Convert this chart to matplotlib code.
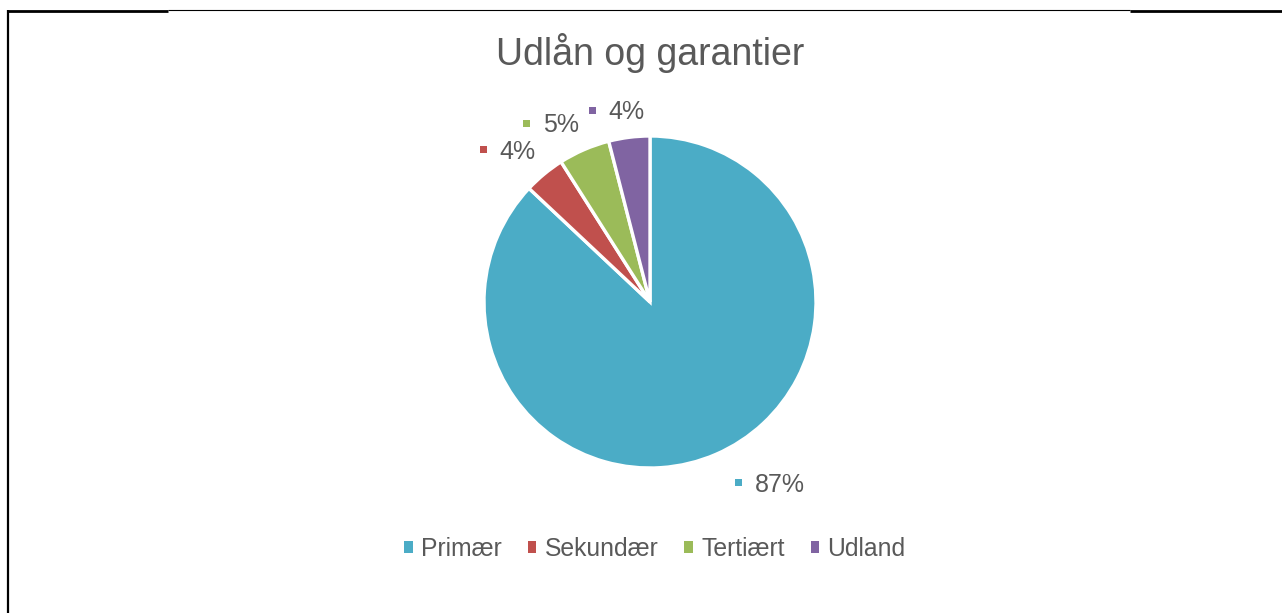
import numpy as np
import matplotlib

matplotlib.use("Agg")
import matplotlib.pyplot as plt
from matplotlib.lines import Line2D
from matplotlib.patches import Patch, Rectangle
from matplotlib.offsetbox import AnnotationBbox, DrawingArea, HPacker, TextArea

plt.rcParams["font.family"] = ["Liberation Sans", "DejaVu Sans"]

TITLE = "Udlån og garantier"
categories = ["Primær", "Sekundær", "Tertiært", "Udland"]
shares = [87, 4, 5, 4]
colors = ["#4bacc6", "#c0504d", "#9bbb59", "#8064a2"]
TEXT = "#595959"

W, H = 1282, 613
fig = plt.figure(figsize=(W / 100, H / 100), dpi=100)

# pie axes: centre (650, 302) px, radius 166 px
cx, cy, r = 650, 302, 166
ax = fig.add_axes([(cx - r) / W, (H - cy - r) / H, 2 * r / W, 2 * r / H])
wedges, _ = ax.pie(
    shares,
    colors=colors,
    startangle=90,
    counterclock=False,
    radius=1.0,
    wedgeprops=dict(edgecolor="white", linewidth=2.4),
)
ax.set_xlim(-1, 1)
ax.set_ylim(-1, 1)
ax.set_aspect("equal")
ax.axis("off")

# data labels: small coloured square + percent, anchored just outside the wedge
LABEL_FS = 18
for w, val, col in zip(wedges, shares, colors):
    mid = np.deg2rad((w.theta1 + w.theta2) / 2)
    c, s = np.cos(mid), np.sin(mid)
    dist = 1.08 if s > 0 else 1.12
    px, py = dist * c, dist * s
    a = np.clip(3 * c, -1, 1)
    fx = 0.5 - a / 2
    fy = 0.0 if s > 0 else 1.0
    if c > 0.2:  # right side label sits a little further out
        px += 0.07
    da = DrawingArea(5, 9, 0, 0)
    da.add_artist(Rectangle((0, 4), 5, 5, fc=col, ec="none"))
    ta = TextArea(f"{val}%", textprops=dict(fontsize=LABEL_FS, color=TEXT))
    box = HPacker(children=[da, ta], align="baseline", pad=0, sep=9)
    ab = AnnotationBbox(box, (px, py), xycoords="data", box_alignment=(fx, fy),
                        frameon=False, pad=0, annotation_clip=False)
    ax.add_artist(ab)

fig.text(cx / W, (H - 53) / H, TITLE, ha="center", va="center",
         fontsize=27, color=TEXT)

handles = [Patch(facecolor=c, edgecolor="none") for c in colors]
fig.legend(
    handles, categories,
    loc="center", bbox_to_anchor=(655 / W, (H - 549) / H),
    ncol=4, frameon=False, fontsize=17.8, labelcolor=TEXT,
    handlelength=0.33, handleheight=0.33, handletextpad=0.35,
    columnspacing=1.05,
)

# outer frame lines (partial border like the source image)
def hline(x0, x1, y, lw):
    fig.add_artist(Line2D([x0 / W, x1 / W], [1 - y / H, 1 - y / H],
                          transform=fig.transFigure, color="black", lw=lw,
                          solid_capstyle="butt"))

hline(7, 168, 10.5, 2.0)
hline(168, 1130, 10, 0.8)
hline(1130, 1282, 10.5, 2.0)
fig.add_artist(Line2D([8 / W, 8 / W], [1 - 9.5 / H, 0],
                      transform=fig.transFigure, color="black", lw=1.6,
                      solid_capstyle="butt"))

fig.savefig("out.png", dpi=100)
